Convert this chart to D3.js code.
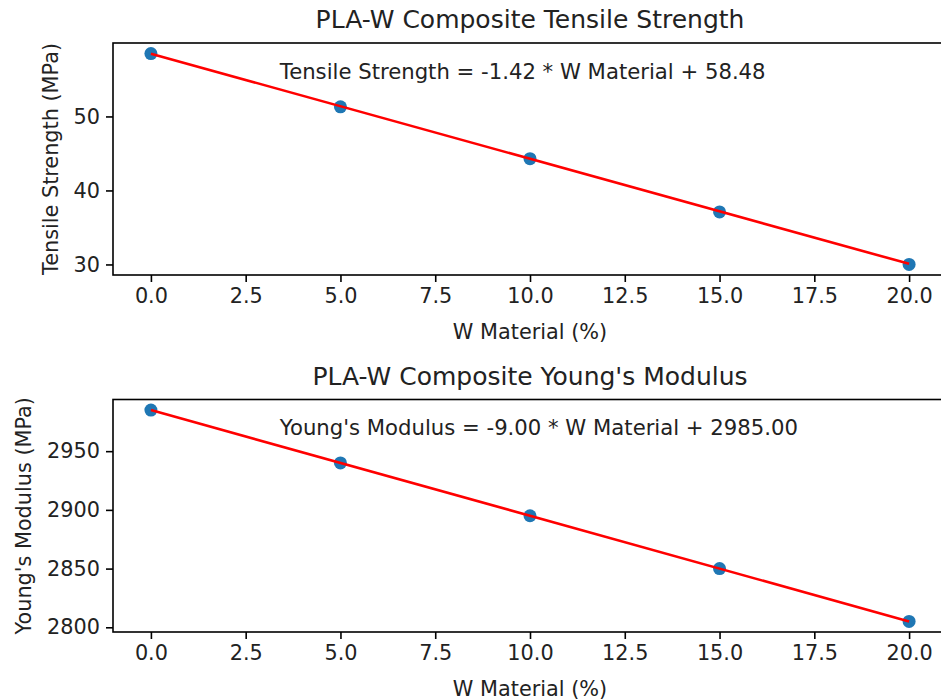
<!DOCTYPE html>
<html>
<head>
<meta charset="utf-8">
<script src="https://cdn.jsdelivr.net/npm/d3@7.9.0/dist/d3.min.js"></script>
<style>
  body { margin: 0; background: #fff; }
  svg { display: block; font-family: "DejaVu Sans", sans-serif; }
</style>
</head>
<body>
<svg id="chart" width="941" height="700"></svg>
<script>
// Data
const wContent = [0, 5, 10, 15, 20];
const tensile = [58.5, 51.3, 44.3, 37.1, 30.0];
const modulus = [2985, 2940, 2895, 2850, 2805];

const xTicks = [0, 2.5, 5, 7.5, 10, 12.5, 15, 17.5, 20];
const tensileTicks = [30, 40, 50];
const modulusTicks = [2800, 2850, 2900, 2950];

// fit results as printed on the chart
const slopes = [-1.42, -9.00];
const intercepts = [58.48, 2985.00];

const svg = d3.select("#chart");

const left = 113, right = 947;

const panels = [
    {
        top: 43, bottom: 275,
        values: tensile, ticks: tensileTicks,
        title: "PLA-W Composite Tensile Strength",
        ylabel: "Tensile Strength (MPa)",
        name: "Tensile Strength",
        ylabelX: 50
    },
    {
        top: 399.5, bottom: 632,
        values: modulus, ticks: modulusTicks,
        title: "PLA-W Composite Young's Modulus",
        ylabel: "Young's Modulus (MPa)",
        name: "Young's Modulus",
        ylabelX: 23
    }
];

panels.forEach((p, i) => {
    const xScale = d3.scaleLinear().domain([-1, 21]).range([left, right]);

    const lineY = wContent.map(x => slopes[i] * x + intercepts[i]);
    const lo = Math.min(d3.min(p.values), d3.min(lineY));
    const hi = Math.max(d3.max(p.values), d3.max(lineY));
    const pad = (hi - lo) * 0.05;
    const yScale = d3.scaleLinear().domain([lo - pad, hi + pad]).range([p.bottom, p.top]);

    const g = svg.append("g");

    // Scatter points
    g.selectAll("circle")
        .data(wContent)
        .enter()
        .append("circle")
        .attr("cx", d => xScale(d))
        .attr("cy", (d, j) => yScale(p.values[j]))
        .attr("r", 6.5)
        .attr("fill", "#1f77b4");

    // Fit line
    const line = d3.line()
        .x(d => xScale(d))
        .y(d => yScale(slopes[i] * d + intercepts[i]));

    g.append("path")
        .datum([0, 20])
        .attr("d", line)
        .attr("fill", "none")
        .attr("stroke", "red")
        .attr("stroke-width", 2.6);

    // X-axis
    const xAxis = g.append("g")
        .attr("transform", `translate(0,${p.bottom})`)
        .call(d3.axisBottom(xScale).tickValues(xTicks).tickFormat(d => d.toFixed(1)).tickSizeOuter(0).tickSize(7).tickPadding(6));

    // Y-axis
    const yAxis = g.append("g")
        .attr("transform", `translate(${left},0)`)
        .call(d3.axisLeft(yScale).tickValues(p.ticks).tickFormat(d => String(d)).tickSizeOuter(0).tickSize(7).tickPadding(6));

    [xAxis, yAxis].forEach(a => {
        a.select(".domain").remove();
        a.selectAll("line").attr("stroke", "#000").attr("stroke-width", 1.6);
        a.selectAll("text").attr("fill", "#222").style("font-size", "20.8px").style("font-family", "DejaVu Sans");
    });

    // Frame
    g.append("rect")
        .attr("x", left)
        .attr("y", p.top)
        .attr("width", right - left)
        .attr("height", p.bottom - p.top)
        .attr("fill", "none")
        .attr("stroke", "#000")
        .attr("stroke-width", 1.6);

    // Title
    g.append("text")
        .attr("x", (left + right) / 2)
        .attr("y", p.top - 15)
        .attr("text-anchor", "middle")
        .attr("fill", "#222")
        .style("font-size", "25px")
        .text(p.title);

    // Equation
    g.append("text")
        .attr("x", left + 0.2 * (right - left))
        .attr("y", p.bottom - 0.85 * (p.bottom - p.top) + 1)
        .attr("fill", "#222")
        .style("font-size", "21.2px")
        .text(`${p.name} = ${slopes[i].toFixed(2)} * W Material + ${intercepts[i].toFixed(2)}`);

    // X-axis label
    g.append("text")
        .attr("x", (left + right) / 2)
        .attr("y", p.bottom + 64)
        .attr("text-anchor", "middle")
        .attr("fill", "#222")
        .style("font-size", "20.8px")
        .text("W Material (%)");

    // Y-axis label
    g.append("text")
        .attr("transform", `translate(${p.ylabelX + 8},${(p.top + p.bottom) / 2}) rotate(-90)`)
        .attr("text-anchor", "middle")
        .attr("fill", "#222")
        .style("font-size", "20.8px")
        .text(p.ylabel);
});
</script>
</body>
</html>
